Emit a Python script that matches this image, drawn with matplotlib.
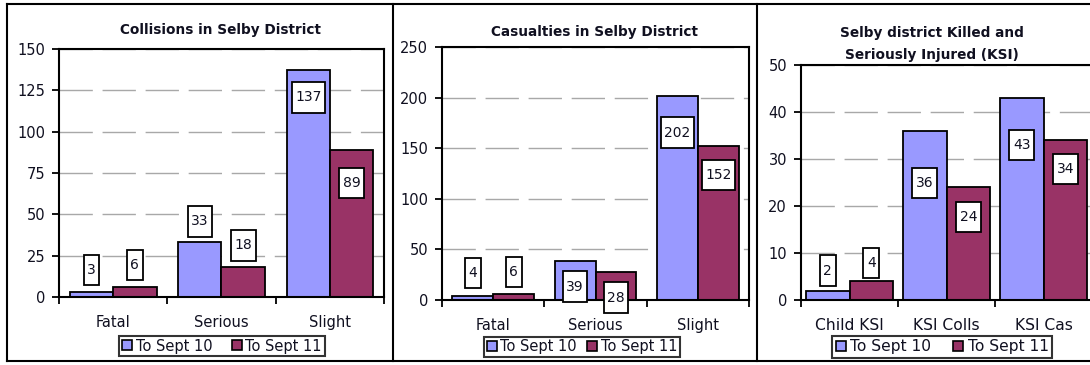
import matplotlib
matplotlib.use("Agg")
import matplotlib.pyplot as plt
from matplotlib.path import Path
from matplotlib.lines import Line2D
import numpy as np

plt.rcParams['font.family'] = ['DejaVu Sans']

# ---------------- data ----------------
series_names = ["To Sept 10", "To Sept 11"]

coll_title = "Collisions in Selby District"
coll_cats = ["Fatal", "Serious", "Slight"]
coll_sept10 = [3, 33, 137]
coll_sept11 = [6, 18, 89]

cas_title = "Casualties in Selby District"
cas_cats = ["Fatal", "Serious", "Slight"]
cas_sept10 = [4, 39, 202]
cas_sept11 = [6, 28, 152]

ksi_title = "Selby district Killed and\nSeriously Injured (KSI)"
ksi_cats = ["Child KSI", "KSI Colls", "KSI Cas"]
ksi_sept10 = [2, 36, 43]
ksi_sept11 = [4, 24, 34]

# ---------------- style / layout ----------------
W, H = 1090, 365
C1, C2 = "#9999FF", "#993366"
TXT = "#101020"
fig = plt.figure(figsize=(W / 100, H / 100), dpi=100)


def fx(px):
    return px / W


def fy(py):
    return 1 - py / H


def tallbox(x0, y0, width, height, mutation_size):
    padx = 0.25 * mutation_size
    total_h = 2.2 * mutation_size
    pady = (total_h - height) / 2
    xa, xb = x0 - padx, x0 + width + padx
    ya, yb = y0 - pady, y0 + height + pady
    return Path([(xa, ya), (xb, ya), (xb, yb), (xa, yb), (xa, ya)], closed=True)


def panel(rect, cats, v1, v2, ymax, ystep, off1, off2, bw, legend_c, xfs, colsp):
    l, t, r, b = rect
    ax = fig.add_axes([fx(l), fy(b), fx(r - l), (b - t) / H])
    x = np.arange(len(cats))
    ax.bar(x - bw / 2, v1, bw, color=C1, edgecolor="black", linewidth=1.3, zorder=2)
    ax.bar(x + bw / 2, v2, bw, color=C2, edgecolor="black", linewidth=1.3, zorder=2)
    ax.set_xlim(-0.5, len(cats) - 0.5)
    ax.set_ylim(0, ymax)
    ax.set_yticks(np.arange(0, ymax + 1, ystep))
    ax.yaxis.grid(True, color="#A8A8A8", linewidth=1.0, linestyle=(0, (24, 7)), zorder=0)
    ax.set_axisbelow(True)
    ax.set_xticks(np.arange(len(cats) + 1) - 0.5)
    ax.set_xticklabels([])
    ax.set_xticks(x, minor=True)
    ax.set_xticklabels(cats, minor=True, fontsize=xfs, color=TXT)
    ax.tick_params(axis="x", which="minor", length=0, pad=13)
    ax.tick_params(axis="x", which="major", direction="out", length=5, width=1.3)
    ax.tick_params(axis="y", direction="out", length=5, width=1.3, pad=5,
                   labelsize=10.5, labelcolor=TXT)
    for s in ax.spines.values():
        s.set_linewidth(1.5)
        s.set_color("black")
    for vals, offs, sx in ((v1, off1, -1), (v2, off2, 1)):
        for xi, v, o in zip(x, vals, offs):
            ax.annotate(str(v), xy=(xi + sx * bw / 2, v), xytext=(0, o),
                        textcoords="offset pixels", ha="center", va="center",
                        fontsize=10, zorder=5, color=TXT,
                        bbox=dict(boxstyle=tallbox, fc="white", ec="black", lw=1.3))
    handles = [Line2D([], [], marker="s", linestyle="none", markersize=7.5,
                      markerfacecolor=c, markeredgecolor="black", markeredgewidth=1.2)
               for c in (C1, C2)]
    leg = ax.legend(handles, series_names, loc="center", ncol=2,
                    bbox_to_anchor=(fx(legend_c[0]), fy(legend_c[1])),
                    bbox_transform=fig.transFigure, frameon=True, fancybox=False,
                    edgecolor="black", fontsize=xfs, handletextpad=0.25,
                    columnspacing=colsp, borderpad=0.2, handlelength=0.7,
                    borderaxespad=0, labelcolor=TXT)
    leg.get_frame().set_linewidth(1.5)
    return ax


panel((59, 49, 384, 297), coll_cats, coll_sept10, coll_sept11, 150, 25,
      [22, 21, -27], [22, 22, -33], 0.4, (222, 346), 10.5, 1.3)
panel((442, 47, 749, 300), cas_cats, cas_sept10, cas_sept11, 250, 50,
      [23, -26, -37], [22, -26, -29], 0.4, (582, 347), 10.5, 0.7)
panel((801, 65, 1092, 300), ksi_cats, ksi_sept10, ksi_sept11, 50, 10,
      [20, -52, -47], [18, -30, -29], 0.45, (942, 347), 11.2, 1.4)

fig.text(fx(221), fy(30), coll_title, ha="center", va="center", fontsize=9.8,
         fontweight="bold", color=TXT)
fig.text(fx(595), fy(32), cas_title, ha="center", va="center", fontsize=9.8,
         fontweight="bold", color=TXT)
fig.text(fx(932), fy(44), ksi_title, ha="center", va="center", fontsize=9.8,
         fontweight="bold", linespacing=1.65, color=TXT)

# panel frames
for (xa, ya, xb, yb) in [(7, 4, 1090, 4), (7, 361, 1090, 361),
                         (7, 4, 7, 361), (393, 4, 393, 361), (757, 4, 757, 361)]:
    fig.add_artist(Line2D([fx(xa), fx(xb)], [fy(ya), fy(yb)], color="black",
                          linewidth=1.5, transform=fig.transFigure))

fig.savefig("out.png", dpi=100)
